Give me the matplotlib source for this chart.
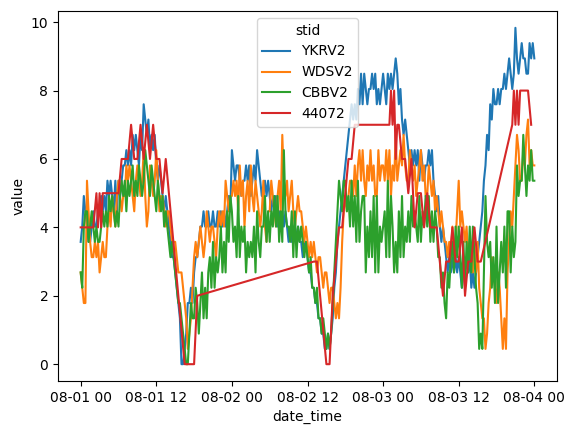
import numpy as np
import pandas as pd
import matplotlib
matplotlib.use("Agg")
import matplotlib.pyplot as plt
import matplotlib.dates as mdates
import seaborn as sns

# wind speeds, in whole mph, every 15 min from 08-01 00:00
# (one row per hour)
MPH_TO_MS = 0.44704

ykrv2_mph = [
    8, 9, 11, 10,  9, 8, 8, 9,  10, 9, 9, 10,  10, 11, 10, 11,
    10, 12, 11, 12,  11, 10, 12, 10,  12, 11, 12, 13,  13, 14, 13, 14,
    13, 15, 14, 15,  14, 13, 15, 14,  17, 16, 15, 16,  14, 15, 14, 15,
    13, 12, 13, 12,  11, 10, 11, 10,  9, 8, 7, 7,  6, 5, 4, 3,
    0, 0, 1, 2,  4, 4, 5, 4,  6, 7, 7, 8,  9, 9, 10, 9,
    9, 10, 9, 9,  10, 9, 9, 10,  9, 10, 9, 10,  9, 10, 11, 10,
    14, 13, 12, 13,  13, 12, 11, 12,  12, 13, 12, 13,  11, 12, 13, 12,
    14, 13, 12, 11,  11, 12, 11, 12,  11, 10, 11, 10,  11, 9, 10, 9,
    10, 9, 10, 9,  8, 9, 8, 9,  9, 8, 9, 8,  8, 7, 8, 8,
    7, 6, 6, 5,  5, 4, 4, 3,  3, 2, 2, 1,  1, 2, 1, 2,
    3, 5, 6, 8,  9, 10, 11, 12,  13, 14, 15, 16,  17, 16, 17, 16,
    18, 17, 19, 17,  19, 18, 17, 18,  18, 19, 18, 19,  17, 18, 17, 18,
    19, 18, 17, 19,  18, 19, 18, 19,  20, 19, 17, 18,  16, 15, 16, 15,
    14, 13, 14, 13,  14, 13, 14, 12,  14, 13, 12, 13,  13, 14, 13, 14,
    12, 11, 10, 11,  9, 8, 9, 8,  7, 6, 7, 6,  7, 6, 7, 6,
    7, 6, 5, 6,  6, 7, 6, 7,  5, 6, 5, 6,  7, 8, 9, 10,
    12, 13, 15, 14,  17, 16, 18, 17,  17, 18, 17, 18,  18, 19, 18, 19,
    20, 19, 18, 19,  22, 20, 19, 20,  21, 20, 20, 19,  19, 21, 20, 21,
    20]

wdsv2_mph = [
    6, 5, 4, 4,  12, 10, 8, 7,  7, 8, 7, 8,  6, 7, 8, 7,
    7, 9, 10, 9,  11, 10, 9, 11,  12, 11, 10, 11,  11, 13, 12, 13,
    12, 11, 10, 12,  13, 12, 11, 12,  14, 11, 9, 10,  13, 12, 11, 12,
    14, 12, 10, 11,  11, 10, 9, 10,  10, 9, 8, 8,  8, 7, 6, 6,
    6, 5, 4, 3,  1, 2, 3, 5,  7, 8, 7, 8,  9, 8, 7, 8,
    10, 9, 8, 9,  9, 8, 7, 9,  10, 9, 10, 9,  12, 11, 10, 11,
    11, 12, 11, 12,  10, 13, 11, 12,  9, 11, 12, 10,  13, 11, 10, 12,
    11, 10, 9, 10,  12, 9, 8, 10,  10, 12, 11, 10,  9, 11, 12, 10,
    15, 12, 11, 12,  10, 11, 12, 10,  9, 10, 11, 10,  10, 9, 8, 9,
    8, 7, 8, 7,  8, 7, 6, 7,  7, 6, 5, 6,  6, 5, 4, 5,
    5, 4, 3, 4,  3, 5, 8, 10,  11, 10, 11, 12,  12, 11, 13, 11,
    13, 14, 12, 14,  12, 11, 13, 12,  14, 12, 13, 11,  11, 14, 12, 13,
    13, 12, 14, 12,  14, 11, 13, 12,  15, 12, 13, 14,  13, 15, 13, 12,
    12, 14, 13, 12,  13, 11, 12, 13,  14, 12, 13, 11,  11, 13, 12, 11,
    12, 10, 11, 10,  9, 10, 9, 8,  8, 7, 8, 7,  9, 7, 8, 10,
    12, 9, 10, 9,  8, 9, 7, 8,  7, 6, 8, 6,  8, 5, 4, 3,
    3, 1, 2, 4,  5, 7, 6, 5,  4, 6, 5, 3,  1, 3, 1, 6,
    8, 10, 9, 11,  13, 15, 14, 12,  12, 14, 13, 15,  16, 13, 14, 13,
    13]

cbbv2_mph = [
    6, 5, 9, 10,  10, 8, 9, 10,  9, 8, 9, 8,  8, 9, 10, 9,
    10, 9, 11, 10,  11, 10, 9, 10,  9, 11, 12, 11,  12, 10, 12, 11,
    12, 13, 11, 12,  11, 13, 12, 11,  12, 14, 13, 12,  11, 13, 12, 11,
    10, 12, 11, 10,  11, 9, 10, 9,  8, 7, 8, 7,  6, 5, 4, 4,
    3, 2, 1, 0,  0, 2, 4, 3,  3, 5, 4, 2,  4, 6, 3, 5,
    3, 6, 7, 5,  8, 5, 7, 6,  7, 9, 6, 8,  6, 10, 8, 11,
    10, 8, 9, 7,  11, 7, 9, 8,  9, 6, 8, 7,  8, 7, 9, 6,
    10, 8, 7, 9,  9, 11, 8, 10,  8, 10, 9, 11,  9, 11, 8, 10,
    8, 14, 10, 9,  9, 8, 10, 7,  10, 7, 9, 8,  9, 8, 7, 8,
    7, 6, 7, 5,  5, 4, 5, 3,  3, 2, 3, 2,  1, 2, 1, 2,
    4, 6, 8, 10,  12, 11, 10, 12,  12, 10, 11, 9,  12, 9, 11, 8,
    12, 8, 10, 11,  11, 6, 9, 7,  10, 7, 11, 6,  11, 6, 9, 8,
    9, 10, 7, 12,  7, 11, 9, 6,  8, 6, 10, 7,  11, 7, 9, 8,
    10, 8, 11, 9,  10, 9, 8, 11,  8, 10, 9, 11,  9, 11, 8, 10,
    8, 10, 9, 7,  7, 5, 6, 4,  3, 6, 5, 7,  8, 6, 9, 7,
    9, 7, 5, 8,  5, 8, 6, 9,  6, 9, 7, 5,  4, 1, 2, 1,
    6, 11, 8, 7,  8, 5, 7, 4,  9, 4, 6, 8,  6, 9, 5, 10,
    10, 6, 9, 7,  8, 13, 11, 12,  12, 15, 13, 11,  13, 12, 14, 12,
    12]

# buoy 44072, m/s, hours after 08-01 00:00 (gaps where no reports)
buoy_hours = [0, 0.5, 1, 1.5, 2, 2.5, 2.75, 3, 3.25, 3.5, 4, 4.5, 5, 5.5, 6, 6.5, 7, 7.5,
              8, 8.5, 9, 9.5, 10, 10.5, 11, 11.5, 12, 12.5, 13, 13.5, 14, 14.5, 15,
              15.5, 16, 16.5, 17, 17.5, 18, 18.5,
              37, 37.5, 38, 38.5, 39, 39.5, 40, 40.5, 41, 41.5, 42, 42.5, 43, 43.5,
              44, 45, 46, 47, 48, 49, 49.25, 49.5, 49.75, 50, 50.25, 50.5, 51, 51.5,
              52, 52.5, 53, 53.5, 54, 54.5, 55, 55.5, 56, 56.5, 57, 57.5, 58, 58.5,
              59, 59.5, 60, 60.5, 61, 61.5, 62, 62.5, 63, 63.5,
              68.5, 68.75, 69, 69.25, 69.5, 69.75, 70, 70.5, 71, 71.5]
buoy_ms = [4, 4, 4, 4, 4, 5, 4, 5, 4, 5, 5, 5, 5, 5, 5, 6, 6, 6,
           7, 6, 6, 7, 6, 7, 6, 7, 6, 6, 5, 6, 5, 4, 3,
           2, 1, 0, 0, 0, 0, 2,
           3, 3, 2, 1, 0, 0, 2, 3, 4, 4, 5, 6, 6, 7,
           7, 7, 7, 7, 7, 7, 8, 7, 8, 6, 7, 7, 6, 6,
           5, 6, 4, 5, 5, 4, 5, 4, 4, 4, 3, 2, 3, 3,
           4, 3, 3, 4, 2, 3, 3, 4, 3, 3,
           7, 8, 7, 8, 7, 8, 8, 8, 8, 7]

start = pd.Timestamp("2021-08-01 00:00")
quarter_hours = pd.date_range(start, periods=len(ykrv2_mph), freq="15min")

frames = []
for name, vals in [("YKRV2", ykrv2_mph), ("WDSV2", wdsv2_mph), ("CBBV2", cbbv2_mph)]:
    frames.append(pd.DataFrame({"date_time": quarter_hours,
                                "value": np.array(vals) * MPH_TO_MS,
                                "stid": name}))
frames.append(pd.DataFrame({"date_time": start + pd.to_timedelta(buoy_hours, unit="h"),
                            "value": buoy_ms,
                            "stid": "44072"}))
df = pd.concat(frames, ignore_index=True)

fig = plt.figure(figsize=(5.71, 4.33), dpi=100)
ax = fig.add_axes([58 / 571, 52 / 433, 499 / 571, 370 / 433])

sns.lineplot(data=df, x="date_time", y="value", hue="stid", ax=ax)

ax.xaxis.set_major_locator(mdates.HourLocator(byhour=[0, 12]))
ax.xaxis.set_major_formatter(mdates.DateFormatter("%m-%d %H"))
ax.set_yticks([0, 2, 4, 6, 8, 10])
ax.legend(title="stid", loc="upper center")

fig.savefig("out.png", dpi=100)
